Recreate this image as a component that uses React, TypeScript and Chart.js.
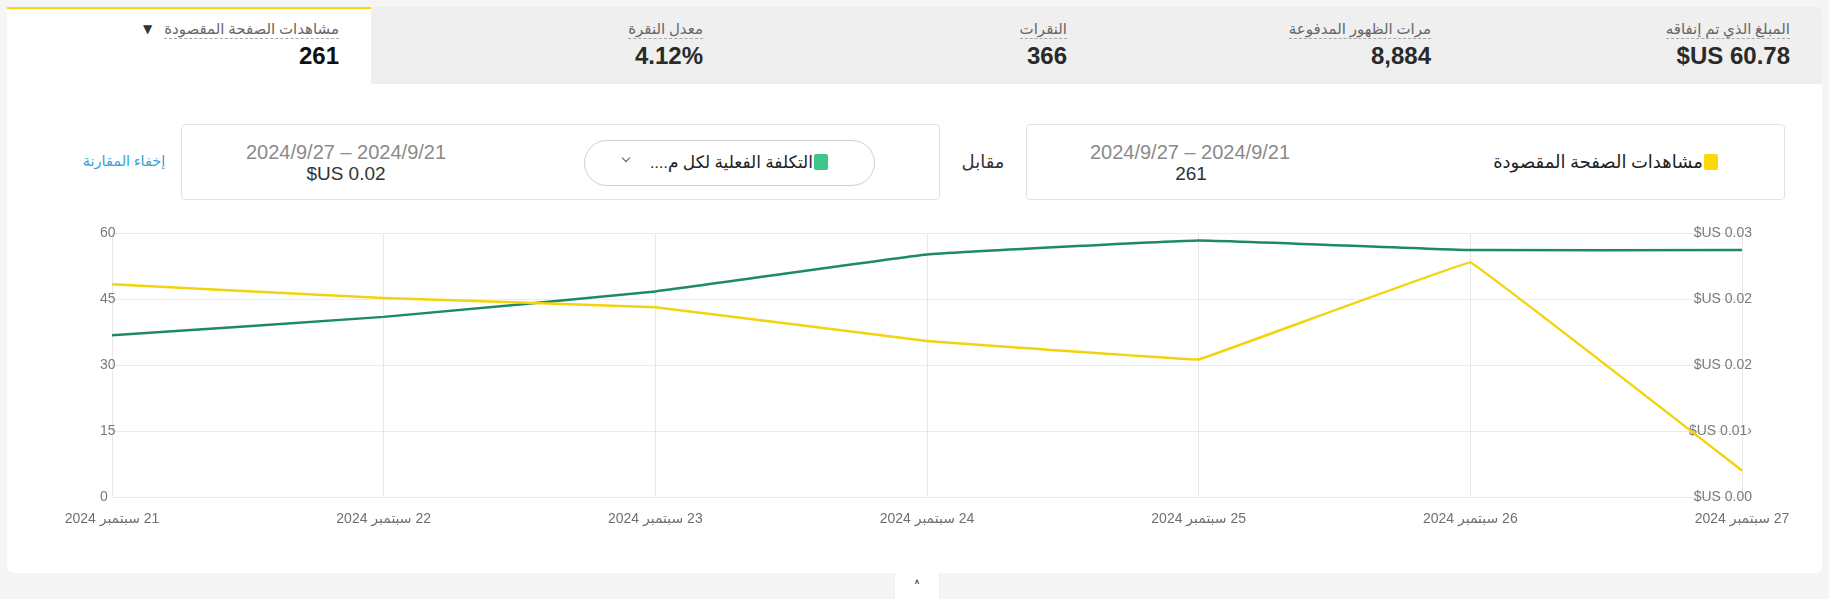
import React, { useEffect, useRef } from "react";
import { Chart, registerables } from "chart.js";

Chart.register(...registerables);

// ---- data ----
const dates = [
  "21 سبتمبر 2024",
  "22 سبتمبر 2024",
  "23 سبتمبر 2024",
  "24 سبتمبر 2024",
  "25 سبتمبر 2024",
  "26 سبتمبر 2024",
  "27 سبتمبر 2024",
];
const pageViews = [48.4, 45.3, 43.2, 35.5, 31.3, 53.4, 6];
const costPerView = [0.0184, 0.0205, 0.0234, 0.0276, 0.0292, 0.0281, 0.0281];
const leftTickValues = [0, 15, 30, 45, 60];
const rightTickValues = [0, 0.0075, 0.015, 0.0225, 0.03];
const rightTickLabels = ["$US 0.00", "$US 0.01›", "$US 0.02", "$US 0.02", "$US 0.03"];

// tabs, left to right as shown
const tabLabels = [
  "مشاهدات الصفحة المقصودة",
  "معدل النقرة",
  "النقرات",
  "مرات الظهور المدفوعة",
  "المبلغ الذي تم إنفاقه",
];
const tabValues = ["261", "4.12%", "366", "8,884", "$US 60.78"];

const seriesNames = ["مشاهدات الصفحة المقصودة", "التكلفة الفعلية لكل م...."];
const rangeText = "2024/9/27 – 2024/9/21";
const seriesTotals = ["261", "$US 0.02"];

const YELLOW = "#f2d40c";
const GREEN_LINE = "#1e8a5f";
const GREEN_BOX = "#3cc68a";
const YELLOW_BOX = "#fcd900";

const FONT = "Roboto, 'DejaVu Sans', sans-serif";
const NUMFONT = "'Liberation Sans', 'DejaVu Sans', sans-serif";

export default function App() {
  const canvasRef = useRef<HTMLCanvasElement>(null);

  useEffect(() => {
    document.body.style.margin = "0";
    const canvas = canvasRef.current!;
    const chart = new Chart(canvas, {
      type: "line",
      data: {
        labels: dates.map((d) => "\u202B" + d + "\u202C"),
        datasets: [
          {
            label: seriesNames[0],
            data: pageViews,
            borderColor: YELLOW,
            backgroundColor: YELLOW,
            borderWidth: 2.5,
            pointRadius: 0,
            tension: 0.02,
            yAxisID: "y",
          },
          {
            label: seriesNames[1],
            data: costPerView,
            borderColor: GREEN_LINE,
            backgroundColor: GREEN_LINE,
            borderWidth: 2.5,
            pointRadius: 0,
            tension: 0.08,
            yAxisID: "y1",
          },
        ],
      },
      options: {
        responsive: false,
        animation: false,
        layout: { padding: { left: 0, right: 78, top: 13, bottom: 0 } },
        plugins: { legend: { display: false }, tooltip: { enabled: false } },
        scales: {
          x: {
            grid: { color: "#e8e8e8", drawTicks: false },
            border: { display: false },
            ticks: {
              color: "#6f6f6f",
              font: { family: NUMFONT, size: 14 },
              padding: 14,
              maxRotation: 0,
              autoSkip: false,
            },
            afterFit: (s: any) => {
              s.height = 40;
            },
          },
          y: {
            position: "left",
            min: 0,
            max: 60,
            grid: { color: "#ebebeb", drawTicks: false },
            border: { display: false },
            ticks: {
              mirror: true,
              color: "#7a7a7a",
              font: { family: NUMFONT, size: 14 },
              padding: -12,
            },
            afterBuildTicks: (s: any) => {
              s.ticks = leftTickValues.map((v) => ({ value: v }));
            },
            afterFit: (s: any) => {
              s.width = 72;
            },
          },
          y1: {
            position: "right",
            min: 0,
            max: 0.03,
            grid: { display: false, drawTicks: false },
            border: { display: false },
            ticks: {
              mirror: true,
              padding: 10,
              color: "#7a7a7a",
              font: { family: NUMFONT, size: 14 },
              callback: (_v: any, i: number) => rightTickLabels[i],
            },
            afterBuildTicks: (s: any) => {
              s.ticks = rightTickValues.map((v) => ({ value: v }));
            },
            afterFit: (s: any) => {
              s.width = 0;
            },
          },
        },
      },
    });
    return () => chart.destroy();
  }, []);

  const tabW = 364;

  return (
    <div
      style={{
        position: "absolute",
        left: 0,
        top: 0,
        width: 1829,
        height: 599,
        background: "#f5f5f5",
        fontFamily: FONT,
        overflow: "hidden",
      }}
    >
      {/* tabs strip */}
      <div
        style={{
          position: "absolute",
          left: 7,
          top: 7,
          width: 1815,
          height: 77,
          background: "#efefef",
          borderTopRightRadius: 6,
        }}
      />
      {tabLabels.map((lab, i) => {
        const active = i === 0;
        const left = 7 + i * tabW;
        const width = i === tabLabels.length - 1 ? 1822 - left : tabW;
        return (
          <div
            key={i}
            style={{
              position: "absolute",
              left,
              top: 7,
              width,
              height: 77,
              background: active ? "#ffffff" : "transparent",
              borderTop: active ? `2px solid ${YELLOW_BOX}` : "none",
              boxSizing: "border-box",
            }}
          >
            <div
              style={{
                position: "absolute",
                right: 32,
                top: active ? 10 : 12,
                height: 20,
                display: "flex",
                alignItems: "center",
                gap: 12,
              }}
            >
              {active && (
                <span style={{ fontSize: 12, color: "#333", lineHeight: "18px" }}>▼</span>
              )}
              <span
                dir="rtl"
                style={{
                  fontSize: 15,
                  color: "#666",
                  lineHeight: "18px",
                  borderBottom: "1px dashed #a8a8a8",
                }}
              >
                {lab}
              </span>
            </div>
            <div
              style={{
                position: "absolute",
                right: 32,
                top: active ? 33 : 35,
                fontFamily: NUMFONT,
                fontWeight: 700,
                fontSize: 24,
                lineHeight: "28px",
                color: active ? "#111" : "#2a2a2a",
              }}
            >
              {tabValues[i]}
            </div>
          </div>
        );
      })}

      {/* card */}
      <div
        style={{
          position: "absolute",
          left: 7,
          top: 84,
          width: 1815,
          height: 489,
          background: "#ffffff",
          borderBottomLeftRadius: 6,
          borderBottomRightRadius: 6,
        }}
      />

      {/* hide comparison link */}
      <div
        dir="rtl"
        style={{
          position: "absolute",
          left: 64,
          width: 120,
          top: 152,
          textAlign: "center",
          fontSize: 14.5,
          lineHeight: "20px",
          color: "#3aa0d8",
        }}
      >
        إخفاء المقارنة
      </div>

      {/* comparison box 1 */}
      <div
        style={{
          position: "absolute",
          left: 181,
          top: 124,
          width: 759,
          height: 76,
          border: "1px solid #e2e2e2",
          borderRadius: 4,
          boxSizing: "border-box",
        }}
      />
      <div
        style={{
          position: "absolute",
          left: 236,
          width: 220,
          top: 140,
          textAlign: "center",
          fontFamily: NUMFONT,
          fontSize: 20,
          lineHeight: "24px",
          color: "#8a8a8a",
        }}
      >
        {rangeText}
      </div>
      <div
        style={{
          position: "absolute",
          left: 236,
          width: 220,
          top: 163,
          textAlign: "center",
          fontFamily: NUMFONT,
          fontSize: 19,
          fontWeight: 500,
          lineHeight: "22px",
          color: "#333",
        }}
      >
        {seriesTotals[1]}
      </div>
      <div
        style={{
          position: "absolute",
          left: 584,
          top: 140,
          width: 291,
          height: 46,
          border: "1px solid #cfcfcf",
          borderRadius: 23,
          boxSizing: "border-box",
        }}
      />
      <div
        style={{
          position: "absolute",
          left: 623,
          top: 155,
          width: 5,
          height: 5,
          borderRight: "1px solid #555",
          borderBottom: "1px solid #555",
          transform: "rotate(45deg)",
        }}
      />
      <div
        dir="rtl"
        style={{
          position: "absolute",
          right: 1829 - 828,
          top: 152,
          height: 20,
          display: "flex",
          alignItems: "center",
          gap: 1,
          fontSize: 17,
          color: "#222",
          whiteSpace: "nowrap",
        }}
      >
        <span
          style={{
            display: "inline-block",
            width: 14,
            height: 16,
            background: GREEN_BOX,
            borderRadius: 2,
          }}
        />
        <span style={{ lineHeight: "20px" }}>{seriesNames[1]}</span>
      </div>

      {/* versus */}
      <div
        dir="rtl"
        style={{
          position: "absolute",
          left: 948,
          width: 70,
          top: 151,
          textAlign: "center",
          fontSize: 18,
          lineHeight: "22px",
          color: "#333",
        }}
      >
        مقابل
      </div>

      {/* comparison box 2 */}
      <div
        style={{
          position: "absolute",
          left: 1026,
          top: 124,
          width: 759,
          height: 76,
          border: "1px solid #e2e2e2",
          borderRadius: 4,
          boxSizing: "border-box",
        }}
      />
      <div
        style={{
          position: "absolute",
          left: 1080,
          width: 220,
          top: 140,
          textAlign: "center",
          fontFamily: NUMFONT,
          fontSize: 20,
          lineHeight: "24px",
          color: "#8a8a8a",
        }}
      >
        {rangeText}
      </div>
      <div
        style={{
          position: "absolute",
          left: 1081,
          width: 220,
          top: 163,
          textAlign: "center",
          fontFamily: NUMFONT,
          fontSize: 19,
          fontWeight: 500,
          lineHeight: "22px",
          color: "#333",
        }}
      >
        {seriesTotals[0]}
      </div>
      <div
        dir="rtl"
        style={{
          position: "absolute",
          right: 1829 - 1718,
          top: 152,
          height: 20,
          display: "flex",
          alignItems: "center",
          gap: 1,
          fontSize: 18,
          color: "#222",
          whiteSpace: "nowrap",
        }}
      >
        <span
          style={{
            display: "inline-block",
            width: 14,
            height: 16,
            background: YELLOW_BOX,
            borderRadius: 2,
          }}
        />
        <span style={{ lineHeight: "20px" }}>{seriesNames[0]}</span>
      </div>

      {/* chart */}
      <canvas
        ref={canvasRef}
        width={1780}
        height={322}
        style={{ position: "absolute", left: 40, top: 215, width: 1780, height: 322 }}
      />

      {/* collapse handle */}
      <div
        style={{
          position: "absolute",
          left: 894,
          top: 573,
          width: 46,
          height: 30,
          background: "#ffffff",
          border: "1px solid #f0f0f0",
          borderTop: "none",
          borderRadius: "0 0 4px 4px",
          boxSizing: "border-box",
          textAlign: "center",
          fontSize: 12,
          lineHeight: "24px",
          color: "#333",
        }}
      >
        ^
      </div>
    </div>
  );
}
